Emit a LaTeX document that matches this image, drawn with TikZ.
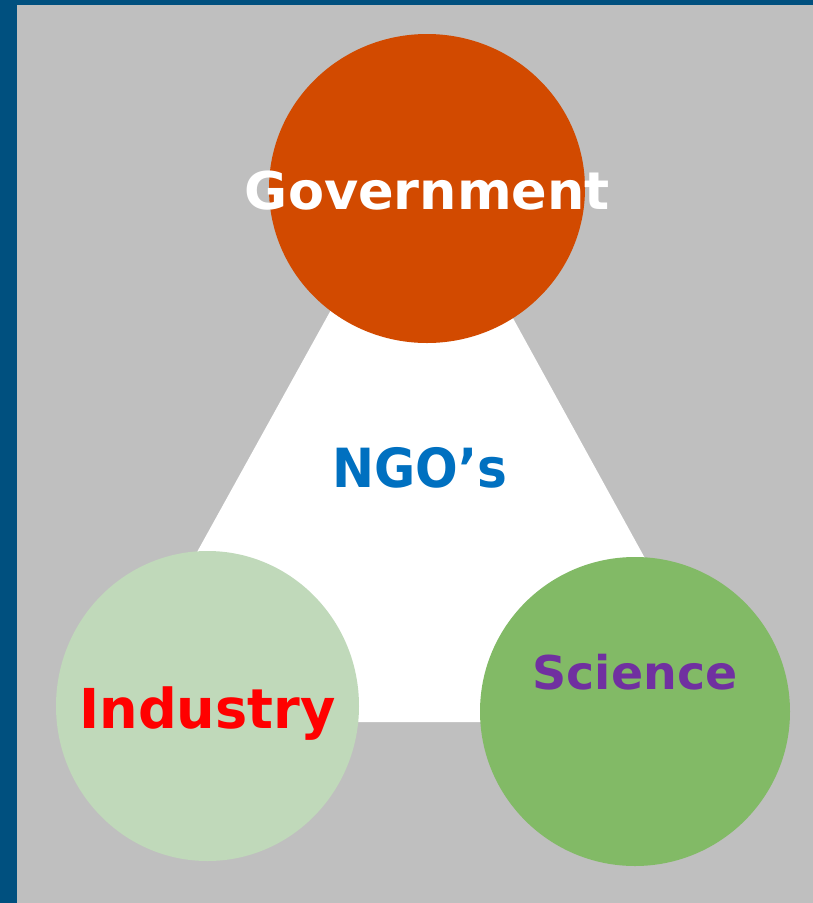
\documentclass[tikz,border=0pt]{standalone}
\usepackage{fontspec}
\setmainfont{DejaVu Sans}
\usepackage{graphicx}
\definecolor{frameblue}{RGB}{0,80,127}
\definecolor{bggray}{RGB}{191,191,191}
\definecolor{govorange}{RGB}{210,74,0}
\definecolor{indgreen}{RGB}{192,217,186}
\definecolor{scigreen}{RGB}{130,186,102}
\definecolor{ngoblue}{RGB}{0,112,192}
\definecolor{scipurple}{RGB}{112,48,160}
\tikzset{
  lbl/.style={anchor=base, inner sep=0pt, font=\bfseries}
}
\begin{document}
\begin{tikzpicture}[x=1pt,y=-1pt]
\useasboundingbox (0,0) rectangle (813,903);
\fill[frameblue] (0,0) rectangle (813,903);
\fill[bggray] (17,5) rectangle (813,903);
% white triangle
\coordinate (ta) at (420,149);
\coordinate (tb) at (103,722);
\coordinate (tc) at (735,722);
\fill[white] (ta) -- (tb) -- (tc) -- cycle;
% circles
\fill[govorange] (427,188.5) ellipse [x radius=158, y radius=154.5];
\fill[indgreen] (207.5,706) ellipse [x radius=151.5, y radius=155];
\fill[scigreen] (635,711.5) ellipse [x radius=155, y radius=154.5];
% labels
\node[lbl, text=white, font=\fontsize{52}{52}\bfseries] (gov) at (427.5,209) {\scalebox{1.01}[1]{Government}};
\node[lbl, text=ngoblue, font=\fontsize{54}{54}\bfseries] (ngo) at (420,487) {\scalebox{0.93}[1]{NGO’s}};
\node[lbl, text=red, font=\fontsize{55}{55}\bfseries] (ind) at (207.5,728) {\scalebox{0.985}[1]{Industry}};
\node[lbl, text=scipurple, font=\fontsize{46.5}{46.5}\bfseries] (sci) at (635,689) {\scalebox{1.02}[1]{Science}};
\end{tikzpicture}
\end{document}
